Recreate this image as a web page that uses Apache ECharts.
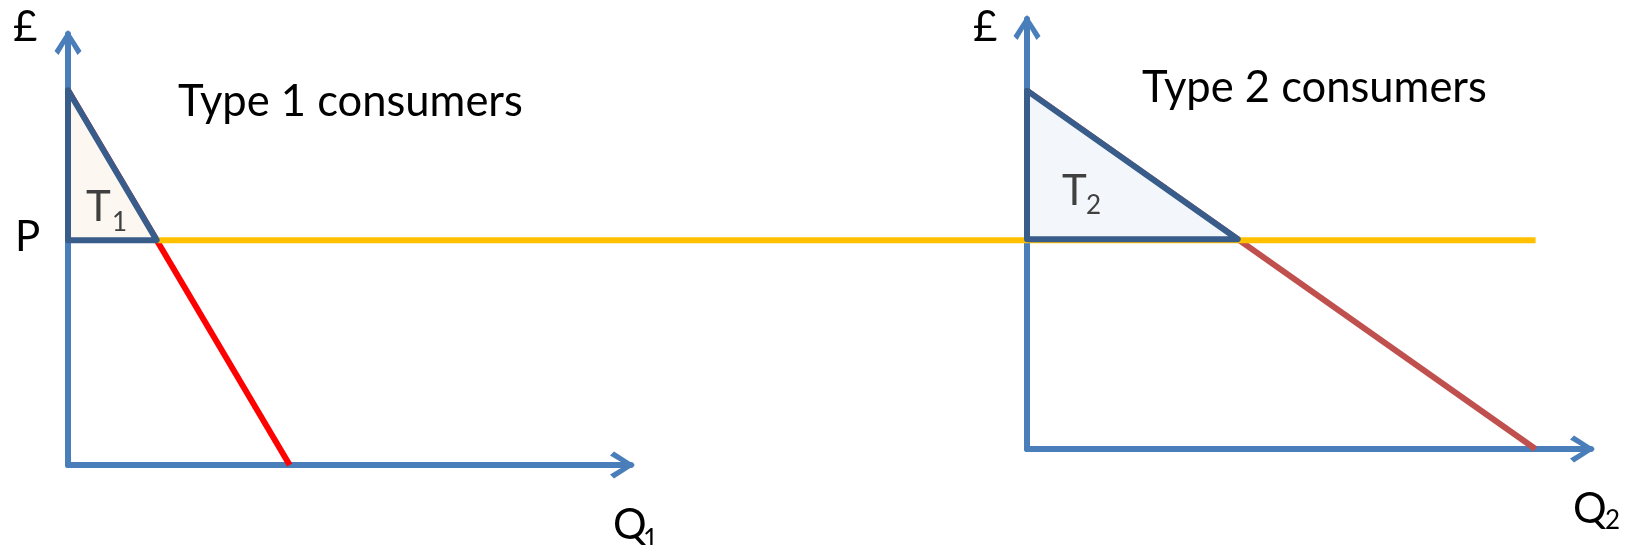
<!DOCTYPE html>
<html>
<head>
<meta charset="utf-8">
<script src="https://cdn.jsdelivr.net/npm/echarts@6/dist/echarts.min.js"></script>
<style>
  html, body { margin: 0; padding: 0; background: #fff; }
  #chart { width: 1627px; height: 545px; }
</style>
</head>
<body>
<div id="chart"></div>
<script>
// values (quantity, price)
const price = 6;
const demand1 = [[0, 10], [10, 0]];
const demand2 = [[0, 10.25], [22.9, 0]];
const surplus1 = [[0, 10], [4, 6], [0, 6]];
const surplus2 = [[0, 10.25], [9.49, 6], [0, 6]];
// price line in panel 1 units, running on across panel 2
const priceLine = [[4, price], [66.2, price]];
const axisMax1 = { x: 25.4, y: 11.5 };
const axisMax2 = { x: 25.4, y: 12.3 };
const axisMaxPrice = { x: 66.2, y: 11.5 };

const AXIS_BLUE = "#4A7EBB";
const OUTLINE = "#385D8A";
const FONT = "Lato";
// open chevron arrow, pointing up before ECharts rotates it
const chevron = "path://M13.5 0L27 21L23 25L13.5 9L4 25L0 21Z";

const axisCommon = (max, grid) => ({
  type: "value",
  gridIndex: grid,
  min: 0,
  max: max,
  axisLine: {
    show: true,
    onZero: false,
    symbol: ["none", chevron],
    symbolSize: [27, 25],
    symbolOffset: [0, -8.5],
    lineStyle: { color: AXIS_BLUE, width: 6 },
  },
  axisTick: { show: false },
  axisLabel: { show: false },
  splitLine: { show: false },
});

// hidden axes for the long price line
const hiddenAxis = (max, grid) => ({
  type: "value",
  gridIndex: grid,
  min: 0,
  max: max,
  show: false,
});

const triangle = (points, fill, xi) => ({
  type: "custom",
  xAxisIndex: xi,
  yAxisIndex: xi,
  clip: false,
  z: 4,
  data: [[0, 0]],
  renderItem: (params, api) => ({
    type: "polygon",
    shape: { points: points.map((p) => api.coord(p)) },
    style: { fill: fill, stroke: OUTLINE, lineWidth: 6, lineJoin: "round" },
  }),
});

const label = (text, x, y, size, color) => ({
  type: "text",
  x: x,
  y: y,
  z: 20,
  style: { text: text, fontSize: size, fontFamily: FONT, fill: color || "#000" },
});

const chart = echarts.init(document.getElementById("chart"));
chart.setOption({
  animation: false,
  backgroundColor: "#fff",
  grid: [
    { left: 68, right: 996, top: 34, bottom: 80 },
    { left: 1027, right: 36, top: 19, bottom: 96 },
    { left: 68, right: 91.4, top: 34, bottom: 80 },
  ],
  xAxis: [axisCommon(axisMax1.x, 0), axisCommon(axisMax2.x, 1), hiddenAxis(axisMaxPrice.x, 2)],
  yAxis: [axisCommon(axisMax1.y, 0), axisCommon(axisMax2.y, 1), hiddenAxis(axisMaxPrice.y, 2)],
  series: [
    {
      type: "line",
      xAxisIndex: 0,
      yAxisIndex: 0,
      data: demand1,
      symbol: "none",
      z: 2,
      lineStyle: { color: "#FF0000", width: 6 },
    },
    {
      type: "line",
      xAxisIndex: 1,
      yAxisIndex: 1,
      data: demand2,
      symbol: "none",
      z: 2,
      lineStyle: { color: "#C0504D", width: 6 },
    },
    {
      type: "line",
      xAxisIndex: 2,
      yAxisIndex: 2,
      data: priceLine,
      symbol: "none",
      z: 3,
      lineStyle: { color: "#FFC000", width: 6 },
    },
    triangle(surplus1, "#FDF7F1", 0),
    triangle(surplus2, "#F3F6FB", 1),
  ],
  graphic: [
    label("£", 13, 6, 42),
    label("£", 973, 6, 42),
    label("P", 15, 216, 42),
    label("Type 1 consumers", 178, 80, 43.5),
    label("Type 2 consumers", 1142, 66, 43.5),
    label("Q", 613, 504, 42),
    label("1", 643, 527, 26),
    label("Q", 1573, 488, 42),
    label("2", 1605, 508, 26),
    label("T", 86, 186, 42, "#404040"),
    label("1", 112, 210, 26, "#404040"),
    label("T", 1062, 170, 42, "#404040"),
    label("2", 1086, 193, 26, "#404040"),
  ],
});
</script>
</body>
</html>
